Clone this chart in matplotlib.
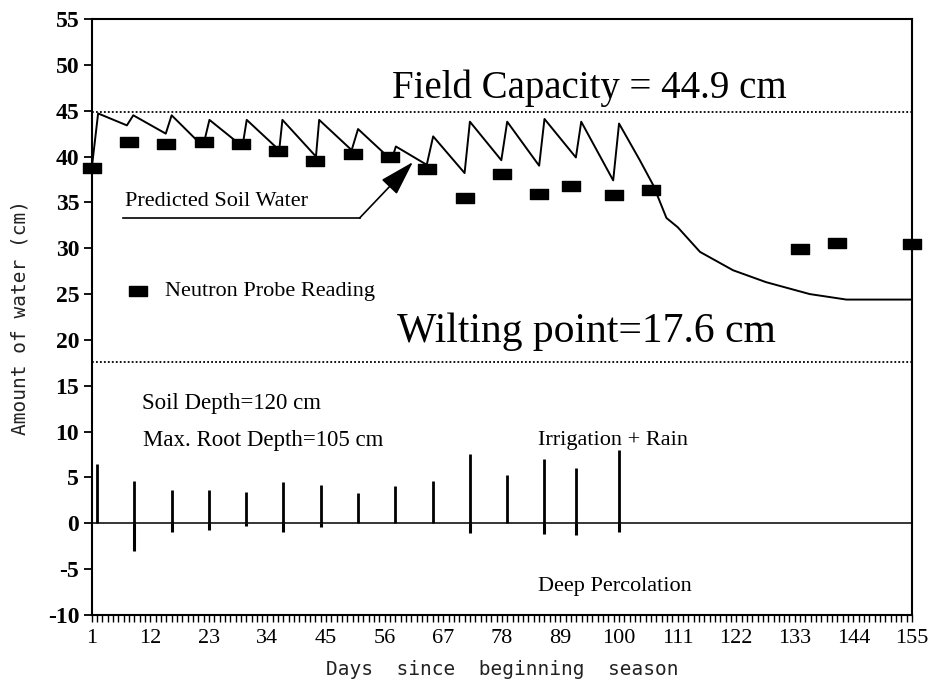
import matplotlib
matplotlib.use("Agg")
import matplotlib.pyplot as plt
from matplotlib.path import Path
import numpy as np

# ---- data ----
x_ticks = [1, 12, 23, 34, 45, 56, 67, 78, 89, 100, 111, 122, 133, 144, 155]
y_ticks = [-10, -5, 0, 5, 10, 15, 20, 25, 30, 35, 40, 45, 50, 55]

probe_days = [1, 8, 15, 22, 29, 36, 43, 50, 57, 64, 71, 78, 85, 91, 99, 106, 134, 141, 155]
probe_vals = [38.7, 41.6, 41.4, 41.6, 41.4, 40.6, 39.5, 40.3, 39.9, 38.6, 35.5, 38.1,
              35.9, 36.8, 35.8, 36.3, 29.9, 30.6, 30.5]

line_days = [1, 2.2, 7.6, 8.8, 14.9, 16.0, 21.9, 23.1, 29.3, 30.1, 36.2, 36.8, 43.1, 43.7,
             49.8, 51.0, 57.3, 58.1, 63.9, 65.1, 71.0, 72.0, 77.9, 79.0, 85.0, 86.0, 91.9,
             92.9, 98.9, 100.0, 103.9, 106.4, 108.9, 111.0, 115.2, 121.4, 127.6, 135.8,
             142.7, 155]
line_vals = [38.7, 44.7, 43.4, 44.5, 42.5, 44.5, 41.1, 44.0, 41.1, 44.0, 40.7, 44.0, 40.0,
             44.0, 40.7, 43.0, 39.6, 41.1, 39.1, 42.2, 38.2, 43.8, 39.6, 43.8, 39.0, 44.1,
             39.9, 43.8, 37.4, 43.6, 39.6, 36.9, 33.3, 32.3, 29.6, 27.6, 26.3, 25.0, 24.4,
             24.4]

irr_days = [2, 9, 16, 23, 30, 37, 44, 51, 58, 65, 72, 79, 86, 92, 100]
irr_vals = [6.5, 4.6, 3.6, 3.6, 3.4, 4.5, 4.2, 3.3, 4.1, 4.6, 7.6, 5.3, 7.0, 6.0, 8.0]
perc_vals = [0.0, -3.0, -1.0, -0.7, -0.3, -1.0, -0.4, 0.0, 0.0, 0.0, -1.1, 0.0, -1.2, -1.3, -0.9]

field_capacity = 44.9
wilting_point = 17.6

# ---- figure ----
fig = plt.figure(figsize=(9.35, 6.84), dpi=100)
ax = fig.add_axes([0.0981, 0.1009, 0.8773, 0.8713])
ax.set_xlim(1, 155)
ax.set_ylim(-10, 55)

serif = ["Liberation Serif", "DejaVu Serif"]

# field capacity & wilting point
ax.axhline(field_capacity, color="black", lw=1.3, ls=(0, (1, 1.2)))
ax.axhline(wilting_point, color="black", lw=1.3, ls=(0, (1, 1.2)))

# zero line
ax.axhline(0, color="black", lw=1.1)

# irrigation + rain and deep percolation
ax.vlines(irr_days, 0, irr_vals, color="black", lw=2.0)
ax.vlines(irr_days, perc_vals, 0, color="black", lw=2.2)

# predicted soil water
ax.plot(line_days, line_vals, color="black", lw=1.4, clip_on=False)

# neutron probe readings (wide rectangles)
rect = Path([(-1, -0.55), (1, -0.55), (1, 0.55), (-1, 0.55), (-1, -0.55)],
            [Path.MOVETO, Path.LINETO, Path.LINETO, Path.LINETO, Path.CLOSEPOLY])
ax.plot(probe_days, probe_vals, ls="none", marker=rect, markersize=13,
        color="black", clip_on=False, zorder=5)

# annotations
ax.text(94.4, 46.4, "Field Capacity = 44.9 cm", family=serif, fontsize=28,
        ha="center", va="baseline")
ax.text(93.8, 19.8, "Wilting point=17.6 cm", family=serif, fontsize=30,
        ha="center", va="baseline")

ax.text(7.3, 35.1, "Predicted Soil Water", family=serif, fontsize=16,
        ha="left", va="center")
ax.plot([6.9, 51.3], [33.3, 33.3], color="black", lw=1.2)
ax.annotate("", xy=(61.3, 39.4), xytext=(51.3, 33.3),
            arrowprops=dict(arrowstyle="-|>,head_length=1.1,head_width=0.33",
                            color="black", lw=1.2, shrinkA=0, shrinkB=0,
                            mutation_scale=20))

ax.plot([9.74], [25.3], ls="none", marker=rect, markersize=13, color="black")
ax.text(14.75, 25.3, "Neutron Probe Reading", family=serif, fontsize=16,
        ha="left", va="center")

ax.text(10.4, 13.1, "Soil Depth=120 cm", family=serif, fontsize=16.5,
        ha="left", va="center")
ax.text(10.6, 9.0, "Max. Root Depth=105 cm", family=serif, fontsize=16.5,
        ha="left", va="center")
ax.text(84.7, 9.0, "Irrigation + Rain", family=serif, fontsize=16,
        ha="left", va="center")
ax.text(84.7, -6.9, "Deep Percolation", family=serif, fontsize=16,
        ha="left", va="center")

# axes styling
for s in ax.spines.values():
    s.set_linewidth(1.5)
    s.set_color("black")

ax.set_xticks(x_ticks)
ax.set_xticklabels([str(t) for t in x_ticks], family=serif, fontsize=16)
ax.set_xticks(np.arange(1, 156, 1), minor=True)
ax.set_yticks(y_ticks)
ax.set_yticklabels([str(t) for t in y_ticks], family=serif, fontsize=17,
                   fontweight="bold")
ax.tick_params(axis="x", which="both", direction="out", length=5, width=1.0,
               pad=5, top=False, bottom=True)
ax.tick_params(axis="y", which="major", direction="out", length=6, width=1.3,
               pad=3, left=True, right=False)

fig.text(0.0214, 0.5365, "Amount of water (cm)", family="DejaVu Sans Mono",
         fontsize=14, rotation=90, ha="center", va="center", color="#222222")
fig.text(0.537, 0.0205, "Days  since  beginning  season", family="DejaVu Sans Mono",
         fontsize=14, ha="center", va="center", color="#222222")

fig.savefig("out.png", dpi=100)
